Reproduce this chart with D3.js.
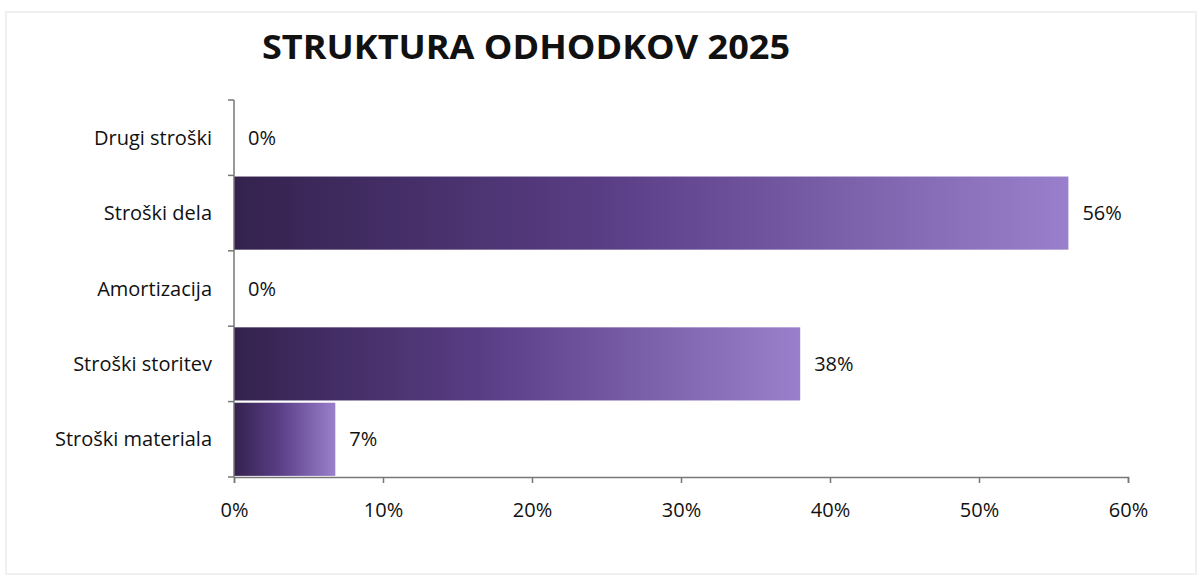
<!DOCTYPE html>
<html lang="sl">
<head>
    <meta charset="utf-8">
    <title>Struktura odhodkov 2025</title>
    <script src="https://d3js.org/d3.v7.min.js"></script>
    <style>
        body { margin: 0; background: #fff; }
        text { font-family: "Open Sans", Lato, sans-serif; fill: #111; }
    </style>
</head>
<body>
<svg width="1201" height="580" id="mainsvg"></svg>
<script>
    // data (top to bottom)
    const categories = ['Drugi stroški', 'Stroški dela', 'Amortizacija', 'Stroški storitev', 'Stroški materiala']
    const shares = [0, 0.56, 0, 0.38, 0.068]
    const valueLabels = ['0%', '56%', '0%', '38%', '7%']
    const xTicks = [0, 0.1, 0.2, 0.3, 0.4, 0.5, 0.6]

    const svg = d3.select('#mainsvg')
    const margin = {top: 100, left: 234, right: 73, bottom: 103}
    const width = +svg.attr('width'), height = +svg.attr('height')
    const innerWidth = width - margin.left - margin.right
    const innerHeight = height - margin.top - margin.bottom

    // faint frame of the scanned chart
    svg.append('rect').attr('x', 6).attr('y', 12).attr('width', 1190).attr('height', 562)
        .attr('fill', 'none').attr('stroke', '#ececec').attr('stroke-width', 1.5)

    svg.append('text').text('STRUKTURA ODHODKOV 2025')
        .attr('x', 526).attr('y', 59).attr('text-anchor', 'middle')
        .attr('font-size', 34).attr('font-weight', 'bold')
        .attr('textLength', 528).attr('lengthAdjust', 'spacingAndGlyphs')

    const defs = svg.append('defs')
    const grad = defs.append('linearGradient').attr('id', 'barGrad')
        .attr('x1', '0%').attr('x2', '100%').attr('y1', '0%').attr('y2', '0%')
    grad.append('stop').attr('offset', '0%').attr('stop-color', '#34224e')
    grad.append('stop').attr('offset', '45%').attr('stop-color', '#5a3e86')
    grad.append('stop').attr('offset', '100%').attr('stop-color', '#9a80cc')

    const xScale = d3.scaleLinear().domain([0, 0.6]).range([0, innerWidth])
    const yScale = d3.scaleBand().domain(categories).range([0, innerHeight]).paddingInner(0.03).paddingOuter(0.015)

    const g = svg.append('g').attr('transform', `translate(${margin.left}, ${margin.top})`)

    g.selectAll('.bar').data(categories).join('rect')
        .attr('class', 'bar')
        .attr('x', 0)
        .attr('y', d => yScale(d))
        .attr('height', yScale.bandwidth())
        .attr('width', (d, i) => xScale(shares[i]))
        .attr('fill', 'url(#barGrad)')

    g.selectAll('.val').data(categories).join('text')
        .attr('class', 'val')
        .attr('x', (d, i) => xScale(shares[i]) + 14)
        .attr('y', d => yScale(d) + yScale.bandwidth() / 2)
        .attr('dy', '0.35em')
        .attr('font-size', 20)
        .text((d, i) => valueLabels[i])

    // y axis: line with outward ticks at band boundaries
    const step = innerHeight / categories.length
    g.append('line').attr('x1', 0).attr('x2', 0).attr('y1', 0).attr('y2', innerHeight)
        .attr('stroke', '#777').attr('stroke-width', 1.5)
    g.selectAll('.ytick').data(d3.range(categories.length + 1)).join('line')
        .attr('class', 'ytick')
        .attr('x1', -6).attr('x2', 0)
        .attr('y1', i => i * step).attr('y2', i => i * step)
        .attr('stroke', '#777').attr('stroke-width', 1.5)
    g.selectAll('.ylab').data(categories).join('text')
        .attr('class', 'ylab')
        .attr('x', -22)
        .attr('y', d => yScale(d) + yScale.bandwidth() / 2)
        .attr('dy', '0.35em')
        .attr('text-anchor', 'end')
        .attr('font-size', 20)
        .text(d => d)

    // x axis
    const xAxis = d3.axisBottom(xScale).tickValues(xTicks).tickFormat(d3.format('.0%')).tickSize(6).tickPadding(20)
    const xg = g.append('g').attr('transform', `translate(0, ${innerHeight})`).call(xAxis)
    xg.select('.domain').attr('stroke', '#777').attr('stroke-width', 1.5)
    xg.selectAll('.tick line').attr('stroke', '#777').attr('stroke-width', 1.5)
    xg.selectAll('.tick text').attr('font-size', 20).attr('fill', '#111')
        .style('font-family', '"Open Sans", Lato, sans-serif')
</script>
</body>
</html>
